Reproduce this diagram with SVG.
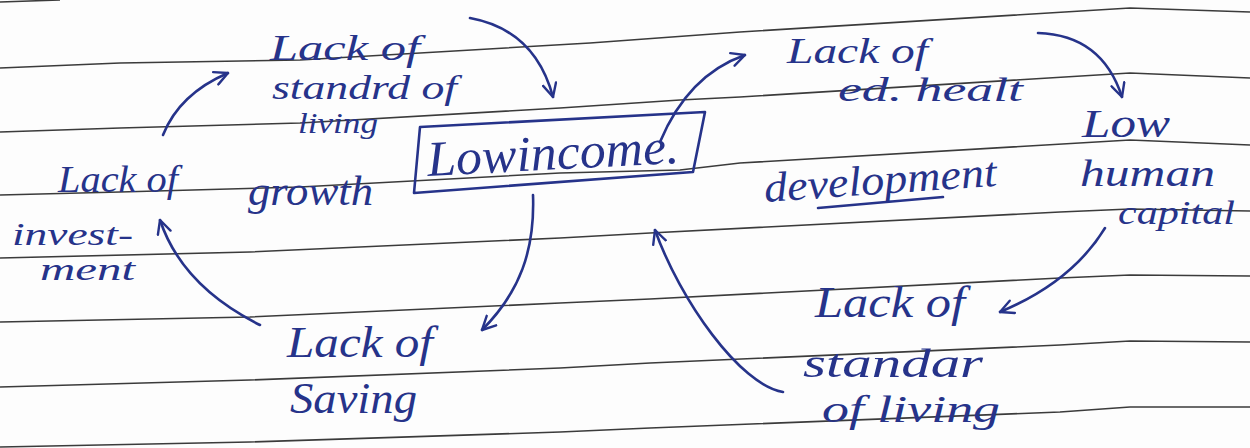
<svg xmlns="http://www.w3.org/2000/svg" width="1250" height="448" viewBox="0 0 1250 448">
<defs>
<style>
.rule{fill:none;stroke:#3b3b3b;stroke-width:1.6}
.ink{fill:#26338a;font-family:"Liberation Serif",serif;font-style:italic}
.conn{fill:none;stroke:#26338a;stroke-width:2.6;stroke-linecap:round;marker-end:url(#head)}
.box{fill:none;stroke:#26338a;stroke-width:2.6;stroke-linejoin:round}
</style>
<marker id="head" viewBox="0 0 12 12" refX="11" refY="6" markerWidth="16" markerHeight="16" markerUnits="userSpaceOnUse" orient="auto">
<path d="M1,1 L11,6 L1,11" fill="none" stroke="#26338a" stroke-width="1.8" stroke-linecap="round" stroke-linejoin="round"/>
</marker>
</defs>
<rect width="1250" height="448" fill="#fdfdfd"/>
<g id="rules">
<path class="rule" d="M0,2 L60,0"/>
<path class="rule" d="M0,68 L120,63 L300,60 L590,43 L740,32 L1130,8 L1250,12"/>
<path class="rule" d="M0,132 L120,128 L300,123 L560,108 L680,100 L740,97 L1130,73 L1250,78"/>
<path class="rule" d="M0,195 L120,192 L300,187 L560,173 L680,170 L740,163 L1130,140 L1250,145"/>
<path class="rule" d="M0,258 L250,252 L560,238 L650,233 L1060,212 L1130,209 L1250,211"/>
<path class="rule" d="M0,322 L250,317 L560,303 L650,299 L1060,278 L1130,275 L1250,276"/>
<path class="rule" d="M0,387 L250,380 L560,368 L650,363 L1060,345 L1130,341 L1250,342"/>
<path class="rule" d="M0,447 L250,442 L560,432 L650,428 L1060,412 L1130,407 L1250,407"/>
</g>
<g id="connectors">
<path class="conn" d="M470,18 Q535,30 553,97"/>
<path class="conn" d="M660,142 Q688,75 745,55"/>
<path class="conn" d="M1038,33 Q1102,35 1122,97"/>
<path class="conn" d="M1105,228 Q1072,282 1000,312"/>
<path class="conn" d="M783,392 C740,385 680,300 655,230"/>
<path class="conn" d="M533,195 C535,250 520,292 482,330"/>
<path class="conn" d="M260,325 C210,300 175,265 160,220"/>
<path class="conn" d="M163,135 C175,105 200,85 228,73"/>
</g>
<g id="node-low-income">
<path class="box" d="M420,127 L705,112 L693,172 L414,193 Z"/>
<text class="ink" x="428" y="176" font-size="50" textLength="252" lengthAdjust="spacingAndGlyphs" transform="rotate(-3 428 176)">Lowincome.</text>
</g>
<g id="node-lack-standard-top">
<text class="ink" x="270" y="60" font-size="36" textLength="150" lengthAdjust="spacingAndGlyphs">Lack of</text>
<text class="ink" x="272" y="99" font-size="34" textLength="185" lengthAdjust="spacingAndGlyphs">standrd of</text>
<text class="ink" x="298" y="133" font-size="30" textLength="80" lengthAdjust="spacingAndGlyphs">living</text>
</g>
<g id="label-growth">
<text class="ink" x="248" y="205" font-size="42" textLength="125" lengthAdjust="spacingAndGlyphs">growth</text>
</g>
<g id="node-lack-investment">
<text class="ink" x="58" y="192" font-size="38" textLength="120" lengthAdjust="spacingAndGlyphs">Lack of</text>
<text class="ink" x="12" y="245" font-size="32" textLength="121" lengthAdjust="spacingAndGlyphs">invest-</text>
<text class="ink" x="40" y="280" font-size="31" textLength="95" lengthAdjust="spacingAndGlyphs">ment</text>
</g>
<g id="node-lack-saving">
<text class="ink" x="287" y="357" font-size="44" textLength="146" lengthAdjust="spacingAndGlyphs">Lack of</text>
<text class="ink" x="290" y="413" font-size="44" textLength="127" lengthAdjust="spacingAndGlyphs">Saving</text>
</g>
<g id="node-lack-ed-health">
<text class="ink" x="787" y="63" font-size="36" textLength="141" lengthAdjust="spacingAndGlyphs">Lack of</text>
<text class="ink" x="838" y="101" font-size="34" textLength="185" lengthAdjust="spacingAndGlyphs">ed. healt</text>
</g>
<g id="node-low-human-capital">
<text class="ink" x="1082" y="137" font-size="40" textLength="88" lengthAdjust="spacingAndGlyphs">Low</text>
<text class="ink" x="1080" y="186" font-size="38" textLength="135" lengthAdjust="spacingAndGlyphs">human</text>
<text class="ink" x="1118" y="224" font-size="33" textLength="117" lengthAdjust="spacingAndGlyphs">capital</text>
</g>
<g id="label-development">
<text class="ink" x="765" y="202" font-size="42" textLength="233" lengthAdjust="spacingAndGlyphs" transform="rotate(-4 765 202)">development</text>
<path d="M818,208 L943,197" fill="none" stroke="#26338a" stroke-width="2.6" stroke-linecap="round"/>
</g>
<g id="node-lack-standard-bottom">
<text class="ink" x="815" y="317" font-size="44" textLength="150" lengthAdjust="spacingAndGlyphs">Lack of</text>
<text class="ink" x="803" y="377" font-size="40" textLength="180" lengthAdjust="spacingAndGlyphs">standar</text>
<text class="ink" x="822" y="422" font-size="38" textLength="178" lengthAdjust="spacingAndGlyphs">of living</text>
</g>
</svg>
